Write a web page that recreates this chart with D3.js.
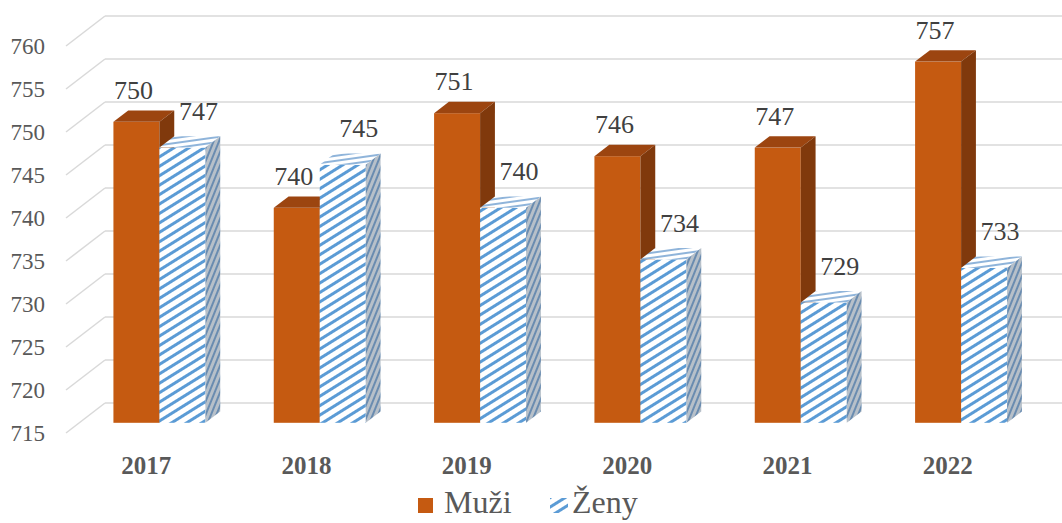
<!DOCTYPE html>
<meta charset="utf-8">
<title>Muži a ženy</title>
<body style="margin:0; background:#fff">
<div id="viz"></div>
<script src="https://cdnjs.cloudflare.com/ajax/libs/d3/7.8.5/d3.min.js"></script>
<script>

var years = ["2017", "2018", "2019", "2020", "2021", "2022"];
var muzi = [750, 740, 751, 746, 747, 757];
var zeny = [747, 745, 740, 734, 729, 733];
var yTicks = [715, 720, 725, 730, 735, 740, 745, 750, 755, 760];
var seriesNames = ["Muži", "Ženy"];

var width = 1062;
var height = 523;
var serif = "'Liberation Serif'";

// oblique "3d" depth: full floor depth goes 39px right and 30px up
var depthX = 39, depthY = -30;
var barD0 = 0.34, barD1 = 0.72;
var barW = 46;

var svg = d3.select("#viz")
  .append("svg")
  .attr("width", width)
  .attr("height", height);

var y = d3.scaleLinear().domain([715, 760]).range([433, 46]);
var x = d3.scaleBand().domain(years).range([66, 1028]);

var defs = svg.append("defs");

function stripes(id, bg, fg, angle, gap, thick) {
  var p = defs.append("pattern")
    .attr("id", id)
    .attr("patternUnits", "userSpaceOnUse")
    .attr("width", 10)
    .attr("height", gap)
    .attr("patternTransform", "rotate(" + angle + ")");
  p.append("rect").attr("width", 10).attr("height", gap).attr("fill", bg);
  p.append("rect").attr("width", 10).attr("height", thick).attr("fill", fg);
}
stripes("zFront", "#ffffff", "#5b9bd5", -32, 8, 3);
stripes("zTop", "#ffffff", "#8fb4da", -8, 5, 2);
stripes("zSide", "#b7c0c9", "#6a8cb0", -68, 5, 2);

// gridlines: back wall + left wall diagonals
var grid = svg.append("g");
yTicks.forEach(function(v) {
  grid.append("line")
    .attr("x1", 66 + depthX).attr("x2", width)
    .attr("y1", y(v) + depthY).attr("y2", y(v) + depthY)
    .attr("stroke", "#d9d9d9").attr("stroke-width", 1.5);
  grid.append("line")
    .attr("x1", 66).attr("x2", 66 + depthX)
    .attr("y1", y(v)).attr("y2", y(v) + depthY)
    .attr("stroke", "#d9d9d9").attr("stroke-width", 1.5);
});

svg.append("g").selectAll("text")
  .data(yTicks)
  .join("text")
  .attr("x", 45)
  .attr("y", function(d) { return y(d); })
  .attr("dy", "0.35em")
  .attr("text-anchor", "end")
  .attr("font-family", serif)
  .attr("font-size", 23)
  .attr("fill", "#595959")
  .text(function(d) { return d; });

svg.append("g").selectAll("text")
  .data(years)
  .join("text")
  .attr("x", function(d) { return x(d) + x.bandwidth() / 2; })
  .attr("y", 465)
  .attr("dy", "0.35em")
  .attr("text-anchor", "middle")
  .attr("font-family", serif)
  .attr("font-size", 25)
  .attr("font-weight", "bold")
  .attr("fill", "#595959")
  .text(function(d) { return d; });

function drawBar(g, x0, v, fills) {
  var oy = depthY * barD0;
  var dx = depthX * (barD1 - barD0), dy = depthY * (barD1 - barD0);
  var x1 = x0 + barW;
  var top = y(v) + oy, base = y(715) + oy;
  g.append("rect")
    .attr("x", x0).attr("y", top)
    .attr("width", barW).attr("height", base - top)
    .attr("fill", fills[0]);
  g.append("polygon")
    .attr("points", [[x0, top], [x1, top], [x1 + dx, top + dy], [x0 + dx, top + dy]].join(" "))
    .attr("fill", fills[1]);
  g.append("polygon")
    .attr("points", [[x1, top], [x1 + dx, top + dy], [x1 + dx, base + dy], [x1, base]].join(" "))
    .attr("fill", fills[2]);
  return {cx: x0 + barW / 2, top: top};
}

var bars = svg.append("g");
var labels = [];
years.forEach(function(yr, i) {
  var c = x(yr) + x.bandwidth() / 2 + depthX * barD0;
  var m = drawBar(bars, c - barW, muzi[i], ["#c55a11", "#9c4510", "#80390c"]);
  var z = drawBar(bars, c, zeny[i], ["url(#zFront)", "url(#zTop)", "url(#zSide)"]);
  labels.push({x: m.cx - 3, y: m.top - 32, t: muzi[i]});
  labels.push({x: z.cx + 16, y: z.top - 37, t: zeny[i]});
});

svg.append("g").selectAll("text")
  .data(labels)
  .join("text")
  .attr("x", function(d) { return d.x; })
  .attr("y", function(d) { return d.y; })
  .attr("dy", "0.35em")
  .attr("text-anchor", "middle")
  .attr("font-family", serif)
  .attr("font-size", 26)
  .attr("fill", "#404040")
  .text(function(d) { return d.t; });

// legend
var leg = svg.append("g");
leg.append("rect")
  .attr("x", 418).attr("y", 498).attr("width", 15).attr("height", 15)
  .attr("fill", "#c55a11");
leg.append("text")
  .attr("x", 444).attr("y", 513)
  .attr("font-family", serif)
  .attr("font-size", 32).attr("fill", "#595959")
  .text(seriesNames[0]);
leg.append("rect")
  .attr("x", 550).attr("y", 498).attr("width", 18).attr("height", 15)
  .attr("fill", "url(#zFront)");
leg.append("text")
  .attr("x", 572).attr("y", 513)
  .attr("font-family", serif)
  .attr("font-size", 32).attr("fill", "#595959")
  .text(seriesNames[1]);

</script>
